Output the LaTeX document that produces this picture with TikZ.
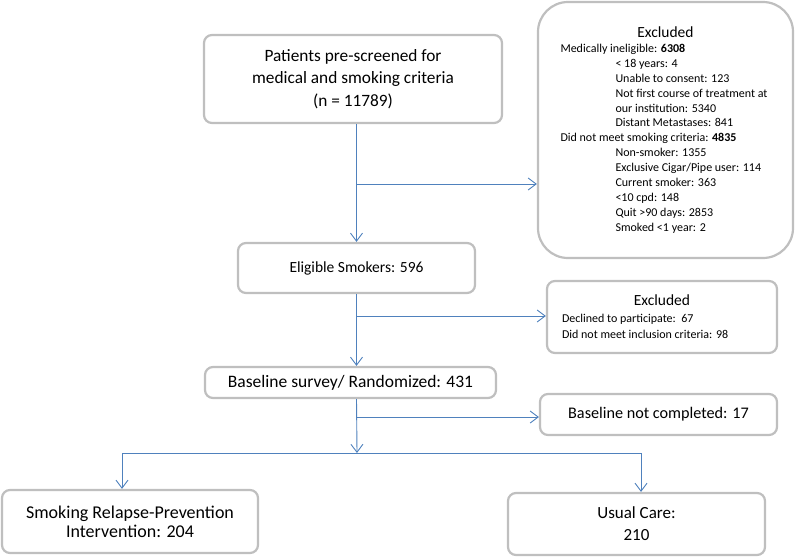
\documentclass[tikz,border=0pt]{standalone}
\usepackage{fontspec}
\setmainfont{Carlito}
\usepackage{tikz}
\usetikzlibrary{arrows.meta}
\definecolor{boxgray}{HTML}{BFBFBF}
\definecolor{flowblue}{HTML}{4F81BD}
\tikzstyle{stage}=[draw=boxgray, line width=2.2pt, rounded corners=8pt, fill=white, align=center, inner sep=2pt, font=\fontsize{15.5}{21}\selectfont]
\tikzstyle{bigstage}=[stage, rounded corners=30pt]
\tikzstyle{link}=[draw=flowblue, line width=0.9pt]
\tikzstyle{flow}=[link, -{Straight Barb[length=8pt, width=12pt, line width=0.9pt]}]
\newcommand{\ind}{\hspace*{55pt}}

\begin{document}
\begin{tikzpicture}[x=1pt, y=-1pt]
        \useasboundingbox (0,0) rectangle (800,557);
        \node[stage, minimum width=298pt, minimum height=88pt, font=\fontsize{17.3}{22.5}\selectfont] (top) at (353,79)
            {Patients pre-screened for\\medical and smoking criteria\\(n = 11789)};
        \node[stage, minimum width=237pt, minimum height=50pt] (elig) at (356.5,268) {Eligible Smokers: 596};
        \node[stage, minimum width=291pt, minimum height=31pt, font=\fontsize{17.5}{21}\selectfont] (base) at (350.5,382.5) {Baseline survey/ Randomized: 431};
        \node[bigstage, minimum width=255pt, minimum height=256pt] (excl1) at (665.5,130) {%
            \begin{minipage}{220pt}\fontsize{12}{14.9}\selectfont
            \centering{\fontsize{15.5}{19}\selectfont Excluded}\par\raggedright\leftskip=5pt
            Medically ineligible: \textbf{6308}\\
            \ind{}< 18 years: 4\\
            \ind{}Unable to consent: 123\\
            \ind{}Not first course of treatment at\\
            \ind{}our institution: 5340\\
            \ind{}Distant Metastases: 841\\
            Did not meet smoking criteria: \textbf{4835}\\
            \ind{}Non-smoker: 1355\\
            \ind{}Exclusive Cigar/Pipe user: 114\\
            \ind{}Current smoker: 363\\
            \ind{}<10 cpd: 148\\
            \ind{}Quit >90 days: 2853\\
            \ind{}Smoked <1 year: 2
            \end{minipage}};
        \node[stage, minimum width=230pt, minimum height=72pt] (excl2) at (662,317) {%
            \begin{minipage}{210pt}\fontsize{12}{16.5}\selectfont
            \centering{\fontsize{15.5}{18}\selectfont Excluded}\par\raggedright\leftskip=5pt
            Declined to participate:\ \ 67\\
            Did not meet inclusion criteria: 98
            \end{minipage}};
        \node[stage, minimum width=237pt, minimum height=41pt, font=\fontsize{16.2}{20}\selectfont] (notc) at (658.5,414.5) {Baseline not completed: 17};
        \node[stage, minimum width=256pt, minimum height=63pt, font=\fontsize{18}{19}\selectfont] (left) at (130,521.5)
            {Smoking Relapse-Prevention\\Intervention: 204};
        \node[stage, minimum width=257pt, minimum height=62pt, font=\fontsize{17}{22}\selectfont] (usual) at (636.5,524)
            {Usual Care:\\210};
        % branch points
        \coordinate (b1) at (357,184);
        \coordinate (b2) at (357,316);
        \coordinate (b3) at (357,417);
        \coordinate (split) at (357,453);
        \coordinate (sl) at (122,453);
        \coordinate (sr) at (641,453);
        \draw[flow] (top.south -| elig.north) -- (elig.north);
        \draw[flow] (b1) -- (b1 -| excl1.west);
        \draw[flow] (elig.south) -- (elig.south |- base.north);
        \draw[flow] (b2) -- (b2 -| excl2.west);
        \draw[flow] (elig.south |- base.south) -- (split);
        \draw[flow] (b3) -- (b3 -| notc.west);
        \draw[link] (sl) -- (sr);
        \draw[flow] (sl) -- (sl |- left.north);
        \draw[flow] (sr) -- (sr |- usual.north);
    \end{tikzpicture}
\end{document}
